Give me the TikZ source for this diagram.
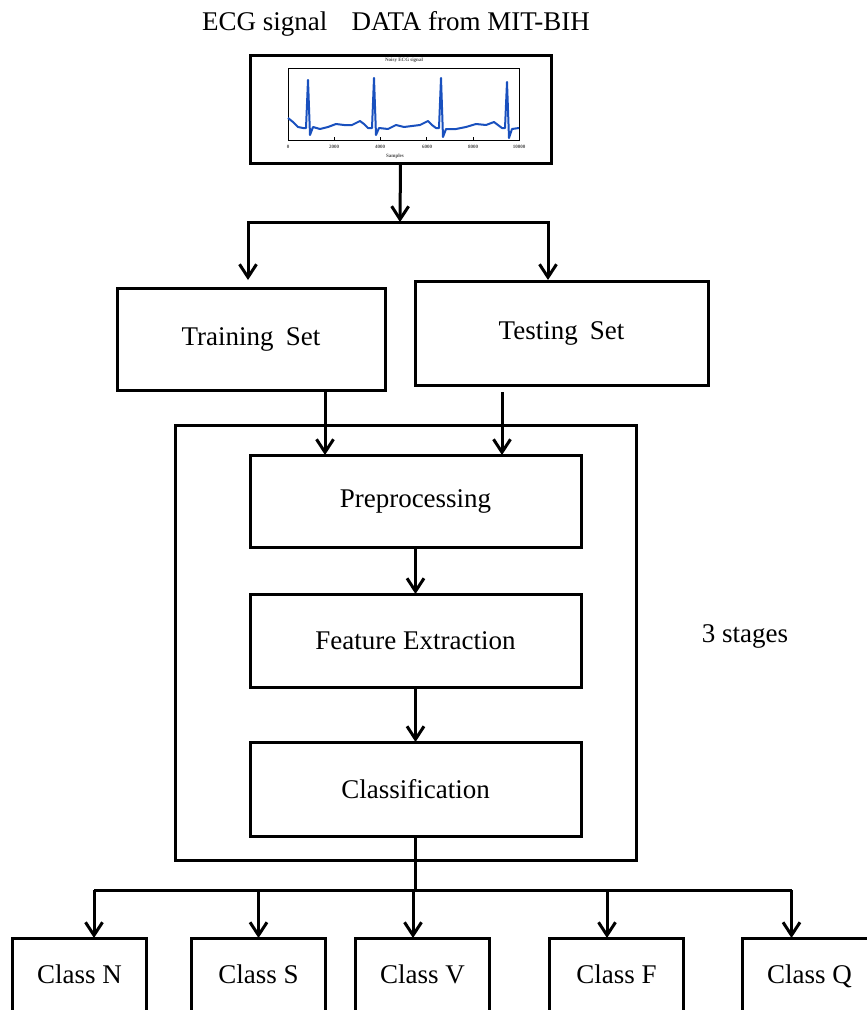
\documentclass[tikz,border=0pt]{standalone}
\usepackage{fontspec}
\setmainfont{Liberation Serif}
\usetikzlibrary{calc,
arrows.meta,
positioning}
\definecolor{ecgblue}{RGB}{25,80,190}

\begin{document}
\begin{tikzpicture} [x=1pt, y=-1pt,
    -{Straight Barb[length=13pt, width=17pt]},
    line width=3pt,
    main node/.style={rectangle, draw, fill=white, align=center,
        inner sep=0pt, outer sep=0pt},
    class node/.style={main node, minimum width=134pt, minimum height=78pt,
        text height=19pt, text depth=6pt},
    stage node/.style={main node, minimum width=331pt, minimum height=93pt},
    tiny text/.style={font=\fontsize{5}{6}\selectfont\bfseries, text=black!70,
        inner sep=0pt},
    every node/.style={font=\fontsize{27}{32}\selectfont}
  ]

  \clip (0,0) rectangle (867,1010);

  \node (title) at (396,24) {ECG signal\hspace{0.9em}DATA from MIT-BIH};

  \node [main node,
    minimum width = 301pt,
    minimum height = 108pt
  ] (ecg) at (400.5,109) {};

  % small plot inside the ECG box
  \draw [-, line width=0.8pt] (288,68) rectangle (519,140);
  \foreach \tx in {288,334.2,380.4,426.6,472.8,519}
    \draw [-, line width=0.6pt] (\tx,140) -- (\tx,137);
  \node [tiny text] at (404,60) {Noisy ECG signal};
  \node [tiny text] at (288,147) {0};
  \node [tiny text] at (334,147) {2000};
  \node [tiny text] at (380,147) {4000};
  \node [tiny text] at (427,147) {6000};
  \node [tiny text] at (473,147) {8000};
  \node [tiny text] at (519,147) {10000};
  \node [tiny text] at (395,156) {Samples};
  \draw [-, ecgblue, line width=2pt, line join=round] plot coordinates {
    (288,118) (293,122) (298,127) (303,128) (306,128) (308,80) (310,135)
    (313,127) (320,129) (328,127) (336,124) (344,125) (352,125) (360,121)
    (364,124) (368,128) (372,128) (374,78) (376,135) (379,128) (388,129)
    (396,125) (404,127) (412,126) (420,125) (428,121) (432,125) (436,128)
    (439,128) (441,78) (443,137) (446,129) (456,129) (466,127) (476,124)
    (486,125) (494,122) (498,125) (502,128) (505,128) (507,82) (509,138)
    (512,129) (519,128)};

  \node [main node,
    minimum width = 268pt,
    minimum height = 102pt
  ] (train) at (251,339) {Training\hspace{0.45em}Set};

  \node [main node,
    minimum width = 293pt,
    minimum height = 104pt
  ] (test) at (561.5,333) {Testing\hspace{0.45em}Set};

  \coordinate (split) at (400,222);
  \draw (ecg.south) -- (split);
  \draw [shorten >=8pt] (split) -| ([xshift=-3pt]train.north);
  \draw [shorten >=1pt] (split) -| ([xshift=-13.5pt]test.north);

  \node [main node,
    minimum width = 461pt,
    minimum height = 435pt
  ] (stages) at (405.5,642.5) {};

  \node [stage node, minimum height = 92pt] (prep) at (415.5,501) {Preprocessing};
  \node [stage node, below = 47pt of prep] (feat) {Feature Extraction};
  \node [stage node, minimum height = 94pt,
    below = 55pt of feat] (cls) {Classification};

  \node (nstage) at (745,636) {3 stages};

  \draw ([xshift=74pt]train.south) -- ([xshift=-90.5pt]prep.north);
  \draw [shorten <=7pt] ([xshift=-59.5pt]test.south) -- ([xshift=86.5pt]prep.north);

  \draw (prep.south) -- (feat.north);
  \draw (feat.south) -- (cls.north);

  % five output classes
  \node [class node] (cN) at (79.5,977) {Class N};
  \node [class node, right = 45pt of cN] (cS) {Class S};
  \node [class node, right = 30pt of cS] (cV) {Class V};
  \node [class node, right = 60pt of cV] (cF) {Class F};
  \node [class node, right = 59pt of cF] (cQ) {Class Q};

  \coordinate (bar) at (415.5,890);
  \draw [-] (cls.south) -- (bar);
  \draw [-] ([xshift=14.5pt]cN.north |- bar) -- ([xshift=-18pt]cQ.north |- bar);
  \foreach \c/\dx in {cN/14.5, cS/0, cV/-9.5, cF/-9.5, cQ/-18}
    \draw ([xshift=\dx pt]\c.north |- bar) -- ([xshift=\dx pt]\c.north);

\end{tikzpicture}
\end{document}
